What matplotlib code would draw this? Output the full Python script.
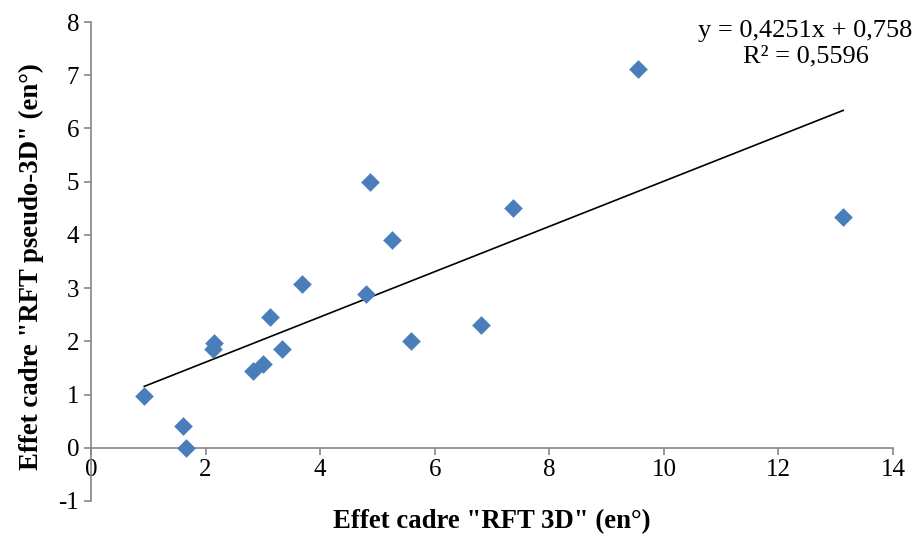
import matplotlib.pyplot as plt
import numpy as np

# effet cadre, RFT 3D vs RFT pseudo-3D (degrees)
rft_3d = [0.93, 1.60, 1.66, 2.13, 2.15, 2.83, 3.00, 3.12, 3.33, 3.68,
          4.80, 4.87, 5.25, 5.58, 6.80, 7.37, 9.55, 13.13]
rft_pseudo = [0.97, 0.40, 0.00, 1.85, 1.97, 1.45, 1.58, 2.45, 1.85, 3.07,
              2.89, 5.00, 3.91, 2.00, 2.30, 4.51, 7.11, 4.34]
slope, intercept, r2 = 0.4251, 0.758, 0.5596

plt.rcParams["font.family"] = ["Liberation Serif", "DejaVu Serif"]
plt.rcParams["axes.unicode_minus"] = False

fig = plt.figure(figsize=(9.2, 5.38), dpi=100)
ax = fig.add_axes([0.0989, 0.0688, 0.8718, 0.8903])

ax.scatter(rft_3d, rft_pseudo, marker="D", s=9.5 ** 2, color="#4A7EBB",
           linewidths=0, zorder=3)
xs = np.array([min(rft_3d), max(rft_3d)])
ax.plot(xs, slope * xs + intercept, color="black", lw=1.2, zorder=2)

ax.set_xlim(0, 14)
ax.set_ylim(-1, 8)
ax.set_xticks(range(0, 15, 2))
ax.set_yticks(range(-1, 9))

for side in ("top", "right"):
    ax.spines[side].set_visible(False)
ax.spines["bottom"].set_position(("data", 0))
for side in ("left", "bottom"):
    ax.spines[side].set_color("#868686")
    ax.spines[side].set_linewidth(1.2)
ax.tick_params(colors="#868686", labelcolor="black", labelsize=18,
               length=5, width=1.2, direction="out")
ax.tick_params(axis="x", pad=3)

ax.set_xlabel("Effet cadre \"RFT 3D\" (en°)", fontsize=19.3, fontweight="bold")
ax.set_ylabel("Effet cadre \"RFT pseudo-3D\" (en°)", fontsize=19.3, fontweight="bold")
ax.xaxis.set_label_coords(0.5, -0.018)
ax.yaxis.set_label_coords(-0.058, 0.49)

ax.text(0.891, 1.005, f"y = {slope:.4f}x + {intercept:.3f}\nR² = {r2:.4f}".replace(".", ","),
        transform=ax.transAxes, ha="center", va="top", fontsize=19,
        multialignment="center", linespacing=1.25)

fig.savefig("out.png", dpi=100)
